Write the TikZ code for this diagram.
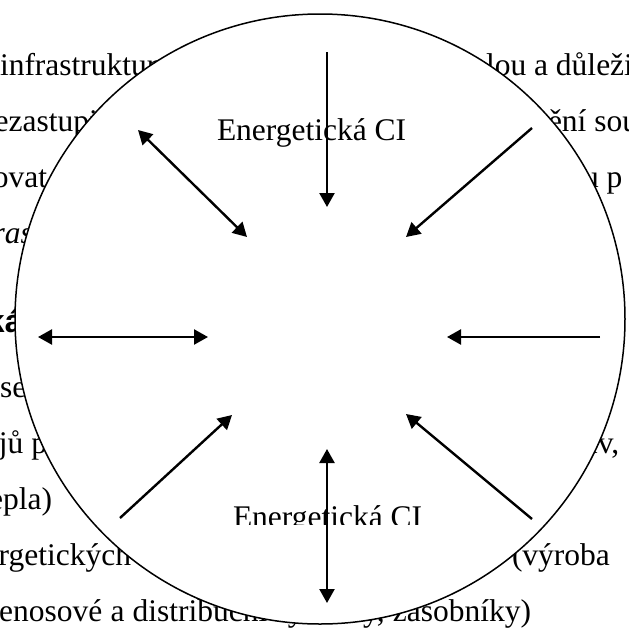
\documentclass[tikz,border=0pt]{standalone}
\usepackage{fontspec}
\setmainfont{Liberation Serif}
\newfontfamily\headsans{Liberation Sans}
\usetikzlibrary{arrows.meta}
\begin{document}
\begin{tikzpicture}[x=1pt,y=-1pt,
  body/.style={anchor=base west, inner sep=0pt, outer sep=0pt,
    font=\fontsize{31.5}{37}\selectfont},
  bodyend/.style={body, anchor=base east},
  cilabel/.style={body, font=\fontsize{31.5}{37}\selectfont},
  ring/.style={circle, draw, fill=white, line width=1.5pt,
    minimum size=610pt, inner sep=0pt},
  link/.style={line width=2.4pt, -{Triangle[length=14pt,width=15pt]}},
  twoway/.style={line width=2.4pt,
    {Triangle[length=14pt,width=15pt]}-{Triangle[length=14pt,width=15pt]}},
]
\useasboundingbox (0,0) rectangle (629,630);
\clip (0,0) rectangle (629,630);

% running text of the page behind the scheme
\node[body] (t1a) at (0,75) {infrastrukturu};
\node[body] (t1b) at (486,75) {lou a důležitou};
\node[body] (t2a) at (-21,131) {nezastupitelnou};
\node[body] (t2b) at (548,131) {ění součástí};
\node[bodyend] (t3a) at (47,187) {poskytovat};
\node[body] (t3b) at (583,187) {u p};
\node[bodyend, font=\fontsize{31.5}{37}\selectfont\itshape] (t4a) at (33,243) {Infras};
\node[body, font=\fontsize{32}{37}\selectfont\headsans\bfseries] (t5a) at (-13,332) {ká};
\node[body] (t6a) at (0,397) {se};
\node[body] (t7a) at (-57,453) {zdrojů pro};
\node[body] (t7b) at (589,453) {iv,};
\node[bodyend] (t8a) at (52,509) {tepla)};
\node[bodyend] (t9a) at (131,565) {energetických};
\node[body] (t9b) at (512,565) {(výroba};
\node[body] (t10a) at (-27,621)
  {\makebox[558pt][s]{přenosové a distribuční systémy, zásobníky)}};

% the scheme: white disc with arrows
\node[ring] (disc) at (320,319) {};

\node[cilabel] (top) at (217,140) {Energetická CI};
\begin{scope}
  \clip (0,0) rectangle (629,524);
  \node[cilabel] (bottom) at (233,527) {Energetická CI};
\end{scope}

\coordinate (n0) at (327,52);   \coordinate (n1) at (327,207);
\coordinate (nw0) at (138,130); \coordinate (nw1) at (247,237);
\coordinate (ne0) at (532,128); \coordinate (ne1) at (406,237);
\coordinate (w0) at (38,337);   \coordinate (w1) at (208,337);
\coordinate (e0) at (600,337);  \coordinate (e1) at (447,337);
\coordinate (sw0) at (120,518); \coordinate (sw1) at (232,415);
\coordinate (se0) at (532,519); \coordinate (se1) at (406,414);
\coordinate (s0) at (327,449);  \coordinate (s1) at (327,603);

\draw[link] (n0) -- (n1);
\draw[twoway] (nw0) -- (nw1);
\draw[link] (ne0) -- (ne1);
\draw[twoway] (w0) -- (w1);
\draw[link] (e0) -- (e1);
\draw[link] (sw0) -- (sw1);
\draw[link] (se0) -- (se1);
\draw[twoway] (s0) -- (s1);
\end{tikzpicture}
\end{document}
